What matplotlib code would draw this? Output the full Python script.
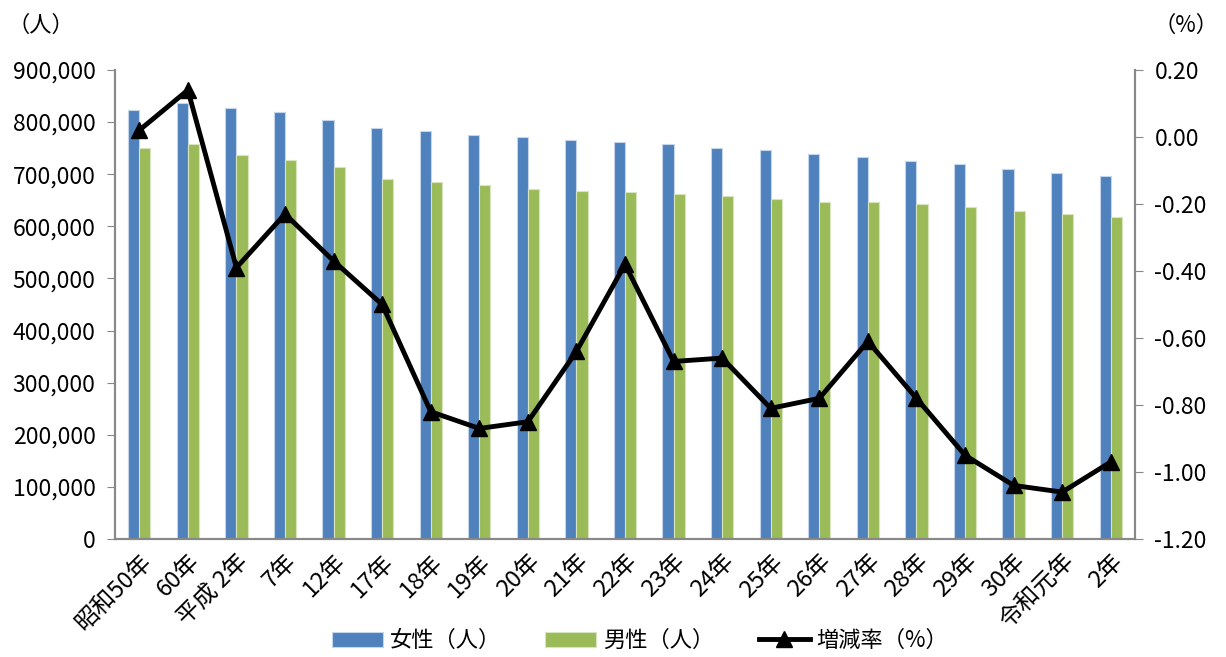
import numpy as np
import matplotlib
matplotlib.use('Agg')
import matplotlib.pyplot as plt

plt.rcParams['font.family'] = ['Noto Sans CJK JP', 'DejaVu Sans']

# 年次ごとの人口（女性・男性）と増減率
years = ['昭和50年', '60年', '平成 2年', '7年', '12年', '17年', '18年', '19年', '20年',
         '21年', '22年', '23年', '24年', '25年', '26年', '27年', '28年', '29年',
         '30年', '令和元年', '2年']
female = [823000, 837000, 826500, 819000, 804000, 788000, 783000, 776000, 771000,
          766000, 762000, 757000, 751000, 746000, 739500, 732500, 725000, 719000,
          710000, 703000, 696000]
male = [751000, 758000, 737500, 727000, 713000, 691000, 685000, 679000, 671700,
        668000, 666000, 662000, 658000, 652500, 647000, 646000, 642000, 636500,
        629000, 623500, 617000]
rate = [0.02, 0.14, -0.39, -0.23, -0.37, -0.50, -0.82, -0.87, -0.85, -0.64, -0.38,
        -0.67, -0.66, -0.81, -0.78, -0.61, -0.78, -0.95, -1.04, -1.06, -0.97]

fig = plt.figure(figsize=(12.26, 6.57), dpi=100)
ax = fig.add_axes([0.0938, 0.1796, 0.832, 0.7139])
x = np.arange(len(years))
w = 0.23
b1 = ax.bar(x - w / 2, female, w, color='#4F81BD', edgecolor='#C5D5EA', linewidth=0.8, label='女性（人）')
b2 = ax.bar(x + w / 2, male, w, color='#9BBB59', edgecolor='#D7E4BD', linewidth=0.8, label='男性（人）')
ax.set_xlim(-0.5, len(years) - 0.5)
ax.set_ylim(0, 900000)
ax.set_yticks(np.arange(0, 900001, 100000))
ax.set_yticklabels(['{:,}'.format(v) for v in range(0, 900001, 100000)], fontsize=16.5)
ax.set_xticks(x)
ax.set_xticklabels(years, rotation=45, ha='right', va='top', rotation_mode='anchor', fontsize=17)
ax.tick_params(axis='x', length=0, pad=8)
ax.tick_params(axis='y', length=6, color='#888888', pad=8)

ax2 = ax.twinx()
l1, = ax2.plot(x, rate, color='black', linewidth=3.5, marker='^', markersize=12, label='増減率（%）')
ax2.set_ylim(-1.2, 0.2)
rticks = [round(v, 2) + 0.0 for v in np.arange(-1.2, 0.21, 0.2)]
ax2.set_yticks(rticks)
ax2.set_yticklabels(['{:.2f}'.format(abs(v) if abs(v) < 1e-9 else v) for v in rticks], fontsize=16.5)
ax2.tick_params(axis='y', length=6, color='#888888', pad=8)

for a in (ax, ax2):
    for s in a.spines.values():
        s.set_color('#888888')
        s.set_linewidth(1.5)
    a.spines['top'].set_visible(False)

fig.text(0.006, 0.962, '（人）', fontsize=16, va='center')
fig.text(0.994, 0.962, '（%）', fontsize=16, va='center', ha='right')

fig.legend(handles=[b1, b2, l1], loc='center', bbox_to_anchor=(0.522, 0.025), ncol=3,
           frameon=False, fontsize=16, handlelength=2.3, handleheight=0.7,
           columnspacing=2.0, handletextpad=0.3)

fig.savefig('out.png', dpi=100)
